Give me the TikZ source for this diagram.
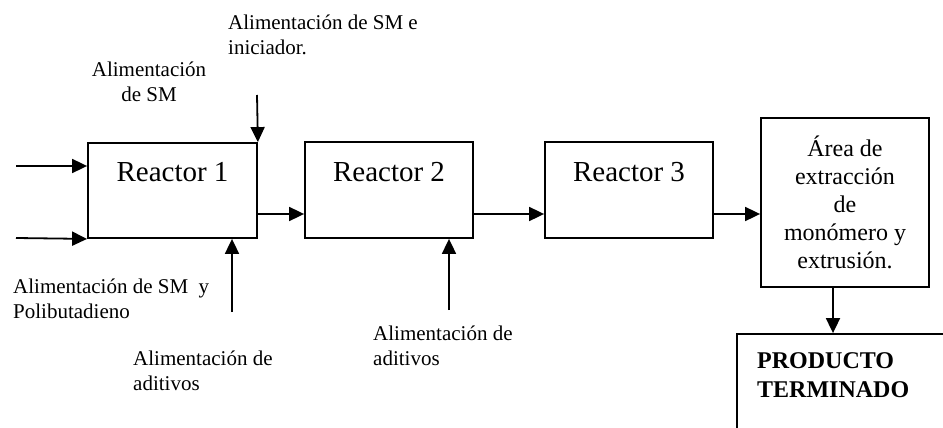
\documentclass[tikz,border=0pt]{standalone}
\usepackage{fontspec}
\setmainfont{Liberation Serif}
\usetikzlibrary{arrows.meta,calc}
\tikzset{
  box/.style={draw,line width=1.8pt,rectangle,inner sep=0pt},
  arr/.style={line width=1.8pt,-{Triangle[length=15pt,width=14pt]}},
  lbl/.style={inner sep=0pt,font=\fontsize{21}{25}\selectfont},
  rtxt/.style={inner sep=0pt,font=\fontsize{29}{34}\selectfont},
}
\begin{document}
\begin{tikzpicture}[x=1pt,y=-1pt]
\clip (0,0) rectangle (943,428);
\fill[white] (0,0) rectangle (943,428);
% boxes
\node[box,minimum width=169pt,minimum height=95pt] (r1) at (172.5,190.5) {};
\node[box,minimum width=168pt,minimum height=96pt] (r2) at (389,190) {};
\node[box,minimum width=168pt,minimum height=96pt] (r3) at (629,190) {};
\node[box,minimum width=168pt,minimum height=169pt] (area) at (845,202.5) {};
\node[box,minimum width=226pt,minimum height=112pt] (prod) at (850,390) {};
% box texts
\node[rtxt] (t1) at (172.5,172) {Reactor 1};
\node[rtxt] (t2) at (389,172) {Reactor 2};
\node[rtxt] (t3) at (629,172) {Reactor 3};
\node[inner sep=0pt,align=center,font=\fontsize{24}{28}\selectfont] (ta) at (845,202)
  {Área de\\extracción\\de\\monómero y\\extrusión.};
\node[inner sep=0pt,align=left,anchor=west,font=\fontsize{24}{29}\selectfont\bfseries] (tp) at (757,375)
  {PRODUCTO\\TERMINADO};
% labels
\node[lbl,align=left,anchor=west] (l1) at (228,35) {Alimentación de SM e\\iniciador.};
\node[lbl,align=center] (l2) at (149,82) {Alimentación\\de SM};
\node[lbl,align=left,anchor=west] (l3) at (13,299) {Alimentación de SM~\ y\\Polibutadieno};
\node[lbl,align=left,anchor=west] (l4) at (133,371) {Alimentación de\\aditivos};
\node[lbl,align=left,anchor=west] (l5) at (373,346) {Alimentación de\\aditivos};
% free ends
\coordinate (in1) at (16,166);
\coordinate (in2) at (16,238);
\coordinate (topf) at (257,95);
\coordinate (botf) at (232,312);
\coordinate (addf) at (449,310);
\coordinate (mid) at (0,214);
\coordinate (down) at (833,0);
% connectors
\draw[arr] (in1) -- (r1.west |- in1);
\draw[arr] (in2) -- (r1.south west);
\draw[arr] (topf) -- (r1.north east);
\draw[arr] (botf) -- (r1.south -| botf);
\draw[arr] (r1.east |- mid) -- (r2.west |- mid);
\draw[arr] (addf) -- (r2.south -| addf);
\draw[arr] (r2.east |- mid) -- (r3.west |- mid);
\draw[arr] (r3.east |- mid) -- (area.west |- mid);
\draw[arr] (area.south -| down) -- (prod.north -| down);
\end{tikzpicture}
\end{document}
